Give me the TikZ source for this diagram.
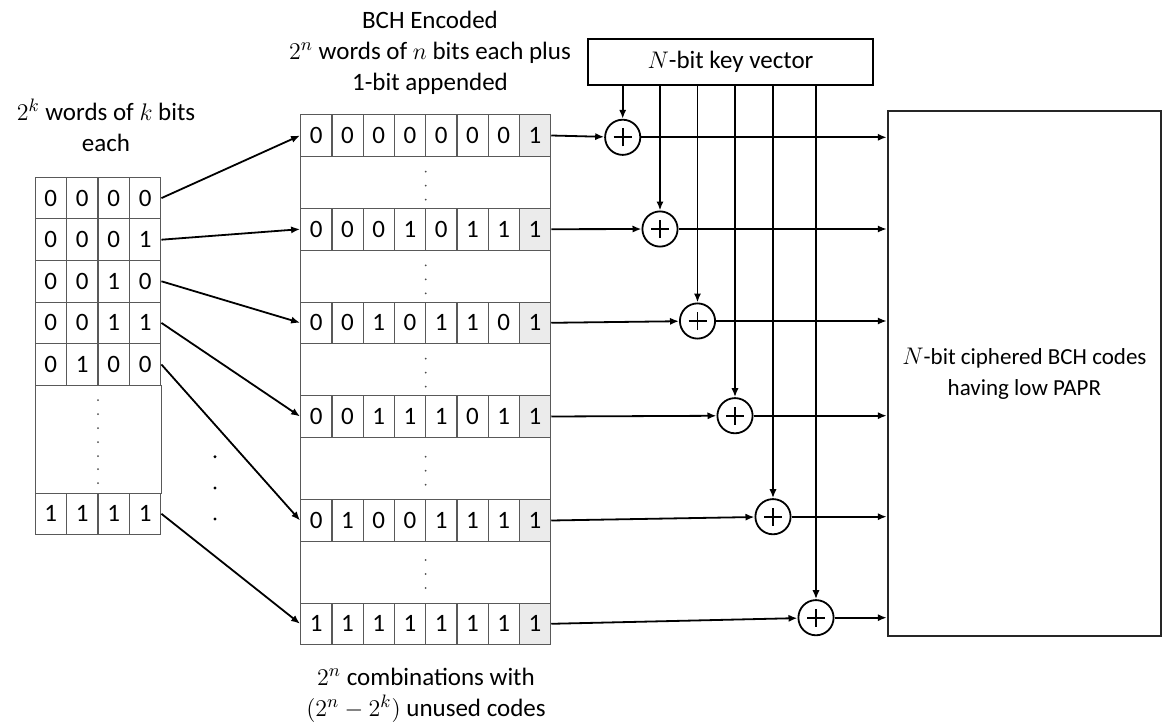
\documentclass[tikz,border=0pt]{standalone}
\usepackage{fontspec}
\setmainfont{Carlito}
\usepackage{tikz}
\usetikzlibrary{arrows.meta, positioning}

\begin{document}
\begin{tikzpicture}[x=0.5pt, y=-0.5pt, font=\fontsize{12.5}{15.5}\selectfont]
        % Styles
        \tikzstyle{cell} = [draw=black!65, line width=0.5pt, minimum width=15.7pt, minimum height=20.8pt, inner sep=0pt]
        \tikzstyle{pad} = [cell, fill=black!8]
        \tikzstyle{gap} = [draw=black!65, line width=0.5pt]
        \tikzstyle{arrow} = [-{Latex[length=4.5pt,width=3.6pt]}, line width=0.9pt]
        \tikzstyle{xor} = [circle, draw, line width=0.9pt, minimum size=17.6pt, inner sep=0pt,
            path picture={\draw[line width=0.9pt]
                ([xshift=-4.5pt]path picture bounding box.center) -- ([xshift=4.5pt]path picture bounding box.center)
                ([yshift=-4.5pt]path picture bounding box.center) -- ([yshift=4.5pt]path picture bounding box.center);}]
        \useasboundingbox (0,0) rectangle (1164,728);

        % Input words
        \node[align=center] (intxt) at (106,125) {$2^k$ words of $k$ bits\\each};
        \draw[gap] (35,385.7) rectangle (161,493.3);
        \foreach \y/\a/\b/\c/\d [count=\r] in {198.1/0/0/0/0, 239.7/0/0/0/1, 281.3/0/0/1/0,
                322.9/0/0/1/1, 364.5/0/1/0/0, 513.8/1/1/1/1}
            \foreach \v [count=\k] in {\a,\b,\c,\d}
                \node[cell] (w\r-\k) at ({19.25+31.5*\k}, \y) {\v};
        \foreach \y in {400,414,428,442,456,469,483}
            \fill[black!70] (98,\y) circle (1);

        % Encoded words
        \node[align=center] (enctxt) at (430,53) {BCH Encoded\\$2^n$ words of $n$ bits each plus\\1-bit appended};
        \draw[gap] (300.7,114.3) rectangle (550.7,644.3);
        \foreach \y/\a/\b/\c/\d/\e/\f/\g [count=\r] in {135.5/0/0/0/0/0/0/0, 229.2/0/0/0/1/0/1/1,
                322.8/0/0/1/0/1/1/0, 416.5/0/0/1/1/1/0/1, 520.5/0/1/0/0/1/1/1, 623.8/1/1/1/1/1/1/1} {
            \foreach \v [count=\k] in {\a,\b,\c,\d,\e,\f,\g}
                \node[cell] (m\r-\k) at ({285.05+31.25*\k}, \y) {\v};
            \node[pad] (m\r-8) at (535.05, \y) {1};
        }
        \foreach \y in {171.7,185.7,199.7, 265.3,279.3,293.3, 358.7,372.7,386.7, 456.7,470.7,484.7, 560,574,588}
            \fill[black!70] (425.7,\y) circle (1);
        \node[align=center] (unused) at (426,695) {$2^n$ combinations with\\$(2^n-2^k)$ unused codes};

        \foreach \y in {456.7,488,519}
            \fill (215,\y) circle (1.7);

        % Key and XORs
        \node[draw, line width=0.9pt, minimum width=142.5pt, minimum height=23pt] (key) at (730.5,62) {$N$-bit key vector};
        \node[xor] (x1) at (622.7,137.3) {};
        \node[xor] (x2) at (660,229) {};
        \node[xor] (x3) at (697.5,321) {};
        \node[xor] (x4) at (735,415.7) {};
        \node[xor] (x5) at (773,516.7) {};
        \node[xor] (x6) at (816,617.7) {};

        % Output block
        \node[draw=black!85, line width=1pt, minimum width=136.6pt, minimum height=262.5pt, align=center,
            font=\fontsize{11.5}{15.5}\selectfont] (out) at (1024.4,373.5) {$N$-bit ciphered BCH codes\\having low PAPR};

        % Arrows
        \foreach \i in {1,...,5}
            \draw[arrow] (w\i-4.east) -- (m\i-1.west);
        \draw[arrow] (w6-4.east) -- (m6-1.west);
        \foreach \i in {1,...,6} {
            \draw[arrow] (m\i-8.east) -- (x\i);
            \draw[arrow] (x\i.north |- key.south) -- (x\i);
            \draw[arrow] (x\i) -- (x\i -| out.west);
        }
    \end{tikzpicture}
\end{document}
